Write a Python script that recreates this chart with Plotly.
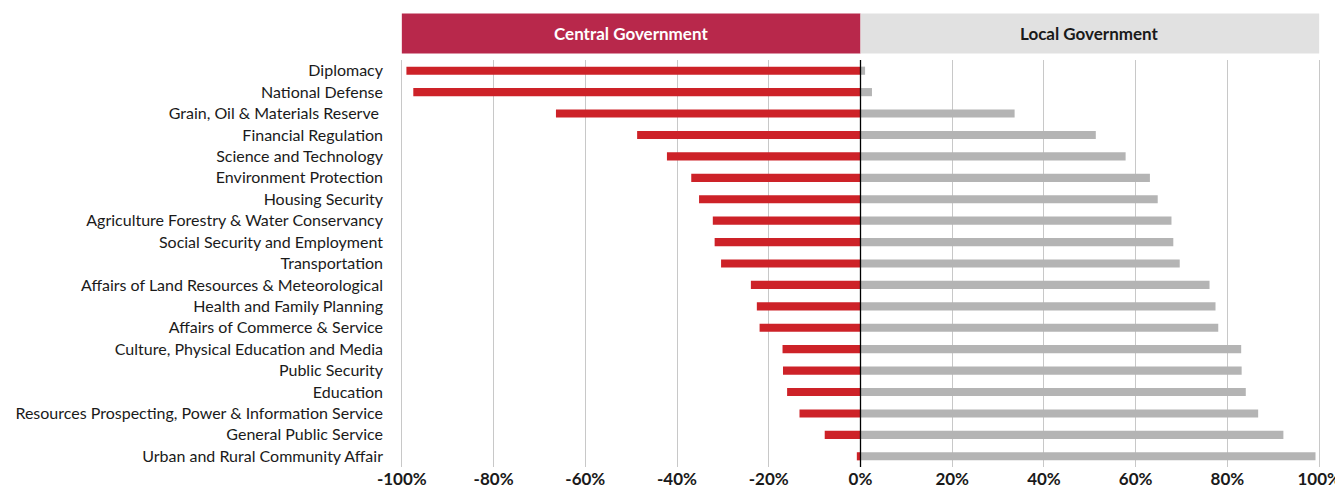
import plotly.graph_objects as go

categories = [
    'Diplomacy', 'National Defense', 'Grain, Oil & Materials Reserve ', 'Financial Regulation',
    'Science and Technology', 'Environment Protection', 'Housing Security',
    'Agriculture Forestry & Water Conservancy', 'Social Security and Employment', 'Transportation',
    'Affairs of Land Resources & Meteorological', 'Health and Family Planning',
    'Affairs of Commerce & Service', 'Culture, Physical Education and Media', 'Public Security',
    'Education', 'Resources Prospecting, Power & Information Service', 'General Public Service',
    'Urban and Rural Community Affair',
]
# central government share, shown to the left (negative)
central = [-99.0, -97.5, -66.4, -48.7, -42.2, -36.9, -35.2, -32.2, -31.8, -30.4,
           -23.9, -22.6, -22.0, -17.0, -16.9, -16.0, -13.3, -7.8, -0.8]
local = [1.0, 2.5, 33.6, 51.3, 57.8, 63.1, 64.8, 67.8, 68.2, 69.6,
         76.1, 77.4, 78.0, 83.0, 83.1, 84.0, 86.7, 92.2, 99.2]
tick_vals = [-100, -80, -60, -40, -20, 0, 20, 40, 60, 80, 100]
tick_text = ['-100%', '-80%', '-60%', '-40%', '-20%', '0%', '20%', '40%', '60%', '80%', '100%']

FONT = 'Lato'

fig = go.Figure()
fig.add_trace(go.Bar(y=categories, x=central, orientation='h', name='Central Government',
                     marker=dict(color='#CD2228', line=dict(width=0)), width=0.38))
fig.add_trace(go.Bar(y=categories, x=local, orientation='h', name='Local Government',
                     marker=dict(color='#B4B4B4', line=dict(width=0)), width=0.38))

# header bands above the plot
fig.add_shape(type='rect', xref='x', yref='paper', x0=-100, x1=0, y0=1.016, y1=1.114,
              fillcolor='#B8284B', line_width=0, layer='above')
fig.add_shape(type='rect', xref='x', yref='paper', x0=0, x1=100, y0=1.016, y1=1.114,
              fillcolor='#E1E1E1', line_width=0, layer='above')
fig.add_annotation(x=-50, y=1.065, xref='x', yref='paper', yanchor='middle', text='<b>Central Government</b>',
                   showarrow=False, font=dict(family=FONT, size=17, color='white'))
fig.add_annotation(x=50, y=1.065, xref='x', yref='paper', yanchor='middle', text='<b>Local Government</b>',
                   showarrow=False, font=dict(family=FONT, size=17, color='#1a1a1a'))
# zero line over the bars
fig.add_shape(type='line', xref='x', yref='paper', x0=0, x1=0, y0=0, y1=1,
              line=dict(color='black', width=1.3), layer='above')

# page body has an 8px margin, so the figure is sized to fill the rest of the window
fig.update_layout(
    barmode='overlay', width=1335, height=480, showlegend=False,
    plot_bgcolor='white', paper_bgcolor='white',
    margin=dict(l=392, r=22, t=52, b=21, autoexpand=False),
    font=dict(family=FONT, size=16, color='#1a1a1a'),
)
fig.update_xaxes(range=[-100.4, 100.4], tickvals=tick_vals, ticktext=tick_text, automargin=False,
                 showgrid=True, gridcolor='#C8C8C8', gridwidth=1, zeroline=False,
                 tickfont=dict(family=FONT, size=17, color='#1a1a1a', weight='bold'), fixedrange=True)
fig.update_yaxes(autorange='reversed', showgrid=False, zeroline=False, ticklabelstandoff=16, automargin=False,
                 tickfont=dict(family=FONT, size=16, color='#1a1a1a'), fixedrange=True)

fig.write_html('out.html')
